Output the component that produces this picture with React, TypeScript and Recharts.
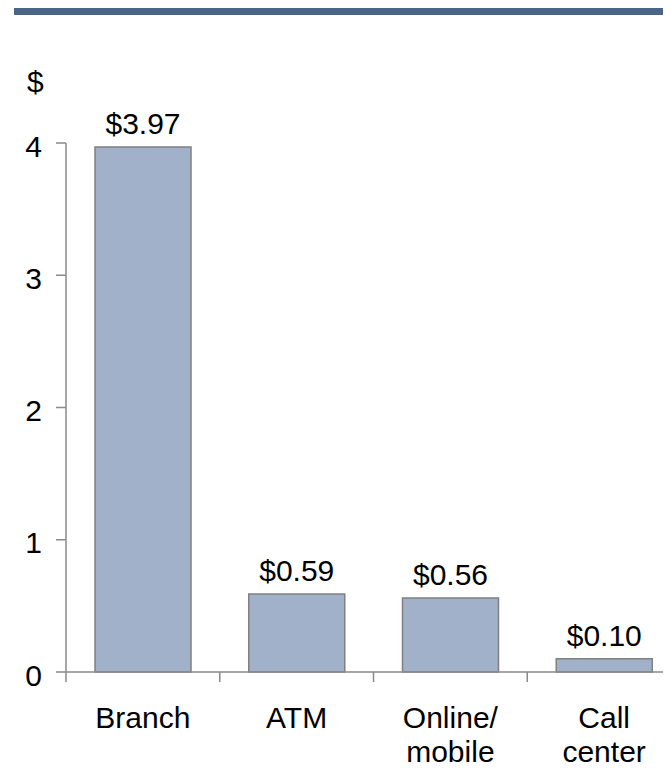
import { BarChart, Bar, XAxis, YAxis, LabelList } from "recharts"

const categories = ["Branch", "ATM", "Online/\nmobile", "Call\ncenter"]
const costs = [3.97, 0.59, 0.56, 0.1]
const yTicks = [0, 1, 2, 3, 4]

const FONT = '"Liberation Sans", Arial, sans-serif'
const FS = 30
const AXIS = "#8a8a8a"
const W = 700
const H = 771
const TOP = 143
const XH = 99
const LEFT = 66
const RIGHT = 19
const BAND = (W - LEFT - RIGHT) / categories.length
const AXIS_Y = H - XH

const data = categories.map((c, i) => ({ channel: c, cost: costs[i] }))

// category ticks sit on the boundaries, labels in the middle
const XTick = (props: any) => {
  const { x, payload } = props
  const lines = String(payload.value).split("\n")
  const bx = x - BAND / 2
  return (
    <g>
      <line x1={bx} y1={AXIS_Y} x2={bx} y2={AXIS_Y + 10} stroke={AXIS} strokeWidth={1.5} />
      <text x={x} y={AXIS_Y + 56} textAnchor="middle" fontSize={FS} fill="#000">
        {lines.map((l, i) => (
          <tspan key={i} x={x} dy={i === 0 ? 0 : 34}>
            {l}
          </tspan>
        ))}
      </text>
    </g>
  )
}

export default function App() {
  return (
    <div
      style={{
        position: "relative",
        width: 671,
        height: 771,
        margin: -8,
        overflow: "hidden",
        background: "#fff",
        fontFamily: FONT,
      }}
    >
      <div style={{ position: "absolute", left: 14, top: 8, width: 651, height: 7, background: "#4a6586" }} />
      <div style={{ position: "absolute", left: 27, top: 63, fontSize: FS, lineHeight: "38px", color: "#000" }}>$</div>
      <BarChart width={W} height={H} data={data} margin={{ top: TOP, right: RIGHT, bottom: 0, left: 0 }}>
        <XAxis
          dataKey="channel"
          height={XH}
          interval={0}
          tickSize={10}
          tickMargin={0}
          tickLine={false}
          stroke={AXIS}
          strokeWidth={1.5}
          tick={<XTick />}
        />
        <YAxis
          domain={[0, 4]}
          ticks={yTicks}
          width={LEFT}
          tickSize={10}
          tickMargin={14}
          stroke={AXIS}
          strokeWidth={1.5}
          tick={{ fontSize: FS, fill: "#000", dy: 3 }}
        />
        <Bar dataKey="cost" barSize={96} fill="#a0b1c9" stroke="#808080" strokeWidth={1.5} isAnimationActive={false}>
          <LabelList
            dataKey="cost"
            position="top"
            offset={13}
            fontSize={FS}
            fill="#000"
            formatter={(v: any) => `$${Number(v).toFixed(2)}`}
          />
        </Bar>
      </BarChart>
    </div>
  )
}
